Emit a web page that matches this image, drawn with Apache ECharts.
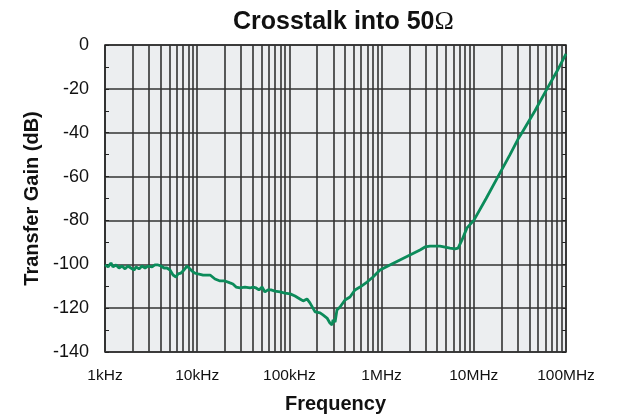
<!DOCTYPE html>
<html>
<head>
<meta charset="utf-8">
<script src="https://cdn.jsdelivr.net/npm/echarts@6/dist/echarts.min.js"></script>
<style>
  html, body { margin: 0; padding: 0; background: #ffffff; }
  #chart { width: 618px; height: 419px; }
</style>
</head>
<body>
<div id="chart"></div>
<script>
// Crosstalk transfer gain (dB) versus frequency (Hz)
const freqHz = [
  1000, 1080, 1160, 1220, 1320, 1420, 1530, 1650, 1770, 1910,
  2070, 2170, 2340, 2520, 2720, 2920, 3240, 3480, 3760, 4050,
  4370, 4700, 5070, 5470, 5890, 6190, 6670, 7190, 7740, 8150,
  8790, 9460, 10200, 10700, 11600, 12800, 13800, 15600, 17700, 20000,
  22700, 24400, 26400, 29100, 33000, 37400, 40300, 43500, 46800, 50500,
  54300, 58600, 63100, 69800, 79100, 89500, 102000, 115000, 130000, 141000,
  155000, 167000, 190000, 215000, 231000, 256000, 275000, 290000, 297000, 313000,
  328000, 354000, 401000, 454000, 514000, 583000, 695000, 807000, 914000, 962000,
  1.23e6, 1.58e6, 2.03e6, 2.61e6, 2.96e6, 3.35e6, 4.30e6, 5.52e6, 6.25e6, 6.75e6,
  7.45e6, 8.43e6, 1.00e7, 1.36e7, 1.83e7, 2.47e7, 3.01e7, 3.33e7, 4.61e7, 6.22e7,
  7.98e7, 1.00e8
];
const gainDb = [
  -100.3, -101.2, -99.4, -101.2, -100.3, -101.7, -100.8, -102.1, -100.8, -101.7,
  -102.6, -101.2, -102.1, -100.8, -101.7, -100.8, -101.2, -100.3, -100.3, -100.8,
  -101.7, -101.7, -102.6, -104.9, -105.8, -104.4, -104.0, -102.6, -100.8, -101.7,
  -103.1, -104.0, -104.4, -105.3, -104.9, -104.9, -104.9, -106.7, -107.6, -107.6,
  -108.5, -109.0, -110.4, -110.8, -110.4, -110.8, -110.4, -110.8, -111.7, -110.4,
  -112.6, -111.7, -111.7, -112.2, -112.6, -113.1, -113.5, -114.5, -115.8, -116.7,
  -115.8, -117.6, -121.7, -122.2, -123.1, -124.5, -126.8, -127.7, -125.4, -126.3,
  -120.8, -119.5, -116.3, -114.9, -111.7, -110.4, -108.1, -105.8, -103.5, -102.6,
  -100.3, -98.0, -95.8, -93.5, -92.1, -91.7, -91.7, -92.6, -93.0, -92.6,
  -88.9, -83.4, -80.0, -70.0, -60.0, -50.0, -43.0, -40.0, -30.0, -20.0,
  -12.0, -4.0
];

// Decade tick labels on the frequency axis
const decadeValues = [1e3, 1e4, 1e5, 1e6, 1e7, 1e8];
const decadeLabels = ['1kHz', '10kHz', '100kHz', '1MHz', '10MHz', '100MHz'];

// Intermediate log-paper grid lines (2..9 of each decade)
const minorMultipliers = [2, 3, 4, 5, 6, 7, 8, 9];
const minorGridValues = [];
for (let d = 0; d < decadeValues.length - 1; d++) {
  for (const m of minorMultipliers) minorGridValues.push(decadeValues[d] * m);
}

const sans = 'Liberation Sans, Arial, Helvetica, sans-serif';
const gridColor = '#333333';
const chart = echarts.init(document.getElementById('chart'), null, { renderer: 'canvas' });

chart.setOption({
  animation: false,
  backgroundColor: '#ffffff',
  title: {
    text: '{a|Crosstalk into 50}{b|Ω}',
    left: 228,
    top: 4,
    textStyle: {
      rich: {
        a: { fontFamily: sans, fontWeight: 'bold', fontSize: 25, color: '#111' },
        b: { fontFamily: 'Liberation Serif, Times New Roman, serif', fontWeight: 'normal', fontSize: 26, color: '#111' }
      }
    }
  },
  grid: {
    left: 105, right: 52, top: 45, bottom: 67,
    show: true,
    backgroundColor: '#eceef0',
    borderColor: '#222',
    borderWidth: 1.5
  },
  xAxis: {
    type: 'log',
    logBase: 10,
    min: 1e3,
    max: 1e8,
    name: 'Frequency',
    nameLocation: 'middle',
    nameGap: 42,
    nameTextStyle: { fontFamily: sans, fontWeight: 'bold', fontSize: 20, color: '#111' },
    axisLine: { show: false },
    axisTick: { show: false },
    axisLabel: {
      margin: 16,
      fontFamily: sans,
      fontSize: 15.5,
      color: '#111',
      formatter: function (v) {
        const i = decadeValues.findIndex(d => Math.abs(Math.log10(d) - Math.log10(v)) < 1e-6);
        return i >= 0 ? decadeLabels[i] : '';
      }
    },
    splitLine: { show: true, lineStyle: { color: gridColor, width: 1.6 } }
  },
  yAxis: [
    {
      type: 'value',
      min: -140,
      max: 0,
      interval: 20,
      name: 'Transfer Gain (dB)',
      nameLocation: 'middle',
      nameGap: 60,
      nameTextStyle: { fontFamily: sans, fontWeight: 'bold', fontSize: 20, color: '#111' },
      axisLine: { show: false },
      axisTick: { show: true, inside: true, length: 4, lineStyle: { color: '#222' } },
      minorTick: { show: true, splitNumber: 2, length: 4, lineStyle: { color: '#222', width: 1 } },
      axisLabel: { margin: 16, fontFamily: sans, fontSize: 18, color: '#111' },
      splitLine: { show: true, lineStyle: { color: gridColor, width: 1.6 } }
    },
    {
      type: 'value',
      position: 'right',
      min: -140,
      max: 0,
      interval: 20,
      axisLine: { show: false },
      axisLabel: { show: false },
      axisTick: { show: true, inside: true, length: 4, lineStyle: { color: '#222' } },
      minorTick: { show: true, splitNumber: 2, length: 4, lineStyle: { color: '#222', width: 1 } },
      splitLine: { show: false }
    }
  ],
  series: [
    {
      name: 'logGrid',
      type: 'line',
      data: [],
      silent: true,
      z: 1,
      markLine: {
        silent: true,
        symbol: ['none', 'none'],
        animation: false,
        label: { show: false },
        lineStyle: { color: gridColor, width: 1.6, type: 'solid' },
        data: minorGridValues.map(v => ({ xAxis: v }))
      }
    },
    {
      name: 'Crosstalk',
      type: 'line',
      z: 5,
      showSymbol: false,
      symbol: 'none',
      smooth: false,
      lineStyle: { color: '#0b8b5a', width: 2.8 },
      data: freqHz.map((f, i) => [f, gainDb[i]])
    }
  ]
});
</script>
</body>
</html>
